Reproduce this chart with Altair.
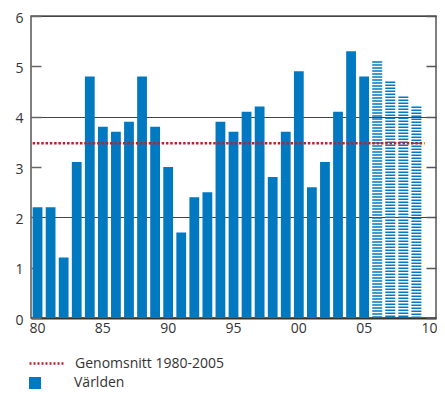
import altair as alt
import pandas as pd

# ---- data ----
years = list(range(1980, 2010))
values = [2.2, 2.2, 1.2, 3.1, 4.8, 3.8, 3.7, 3.9, 4.8, 3.8,
          3.0, 1.7, 2.4, 2.5, 3.9, 3.7, 4.1, 4.2, 2.8, 3.7,
          4.9, 2.6, 3.1, 4.1, 5.3, 4.8, 5.1, 4.7, 4.4, 4.2]
forecast_from = 2006
axis_years = list(range(1980, 2011))
tick_years = [1980, 1985, 1990, 1995, 2000, 2005, 2010]
y_ticks = [0, 1, 2, 3, 4, 5, 6]
avg_value = 3.47
avg_start = 1980
avg_end = 2010
avg_label = "Genomsnitt 1980-2005"
series_label = "Världen"

BLUE = "#0079c1"
RED = "#b3262e"
TEXT = "#333333"
FONT = "Open Sans"

df = pd.DataFrame({"year": years, "value": values})
df["series"] = series_label
actual = df[df["year"] < forecast_from]
forecast = df[df["year"] >= forecast_from]
avg_df = pd.DataFrame({"start": [avg_start], "end": [avg_end],
                       "value": [avg_value], "label": [avg_label]})

xscale = alt.Scale(domain=axis_years, paddingInner=0.25, paddingOuter=0.125)
yscale = alt.Scale(domain=[0, 6], nice=False)

x_axis = alt.Axis(values=tick_years, labelExpr="substring(datum.label, 2, 4)",
                  ticks=False, domain=True, domainColor="#333", domainWidth=2,
                  labelAngle=0, labelFont=FONT, labelFontSize=14, labelColor=TEXT,
                  labelPadding=3, grid=False, title=None)

left_axis = alt.Axis(values=y_ticks, offset=-10, tickSize=10, tickColor="#666",
                     tickWidth=1.5, domain=False, grid=True, gridColor="#444",
                     gridWidth=1,
                     gridOpacity=alt.condition("datum.value % 2 === 0", alt.value(1), alt.value(0)),
                     labelFont=FONT, labelFontSize=14, labelColor=TEXT,
                     labelPadding=8, labelOffset=2, title=None)

right_axis = alt.Axis(orient="right", values=y_ticks, offset=-10, tickSize=10,
                      tickColor="#555", tickWidth=1.5, labels=False, domain=False,
                      grid=False, title=None)

bars = alt.Chart(actual).mark_bar().encode(
    x=alt.X("year:O", scale=xscale, axis=x_axis),
    y=alt.Y("value:Q", scale=yscale, axis=left_axis),
    color=alt.Color("series:N",
                    scale=alt.Scale(domain=[series_label], range=[BLUE]),
                    legend=alt.Legend(title=None, orient="none", legendX=-3, legendY=360,
                                      symbolType="square", symbolSize=144,
                                      symbolStrokeWidth=0, labelOffset=32, padding=0,
                                      labelFont=FONT, labelFontSize=14, labelColor=TEXT)),
)

fc = alt.Chart(forecast).mark_rule(strokeWidth=10, strokeDash=[1.5, 1.5],
                                   strokeCap="butt", color=BLUE).encode(
    x=alt.X("year:O", scale=xscale, axis=x_axis),
    y=alt.Y("value:Q", scale=yscale, axis=right_axis),
    y2=alt.datum(0),
)

avg = alt.Chart(avg_df).mark_rule(strokeWidth=2.5, strokeDash=[2.5, 1.8]).encode(
    x=alt.X("start:O", scale=xscale, axis=x_axis, bandPosition=0),
    x2=alt.X2("end", bandPosition=0),
    y=alt.Y("value:Q", scale=yscale, axis=None),
    stroke=alt.Stroke("label:N",
                      scale=alt.Scale(domain=[avg_label], range=[RED]),
                      legend=alt.Legend(title=None, orient="none", legendX=-3, legendY=329,
                                        symbolType="stroke", symbolSize=1156,
                                        symbolStrokeWidth=2.5, symbolDash=[2, 2],
                                        labelOffset=10, padding=0,
                                        labelFont=FONT, labelFontSize=14, labelColor=TEXT)),
)

chart = alt.layer(bars, fc, avg).resolve_axis(y="independent").properties(
    width=405, height=302,
    autosize=alt.AutoSizeParams(type="none"),
    padding={"left": 23, "top": 8, "right": 1, "bottom": 76},
).configure_view(stroke="#555", strokeWidth=1.5)

chart.save("out.html", embed_options={"renderer": "svg", "actions": False})
